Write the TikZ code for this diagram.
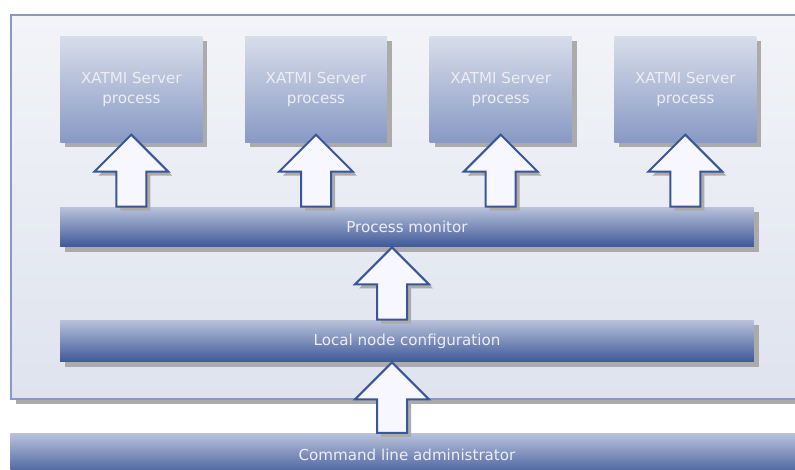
\documentclass[tikz,border=0pt]{standalone}
\usepackage{fontspec}
\setmainfont{DejaVu Sans}
\usetikzlibrary{positioning, calc, shadows}
\definecolor{frameblue}{RGB}{136,153,198}
\definecolor{paneltop}{RGB}{242,244,248}
\definecolor{panelbottom}{RGB}{223,227,238}
\definecolor{bartop}{RGB}{184,194,219}
\definecolor{barbottom}{RGB}{62,88,152}
\definecolor{boxtop}{RGB}{215,221,234}
\definecolor{boxbottom}{RGB}{136,153,196}
\definecolor{arrowblue}{RGB}{58,86,150}
\definecolor{labelwhite}{RGB}{236,238,244}

% block arrow pointing up: #1 = source node, #2 = tip coordinate
\newcommand{\blockup}[2]{%
  \draw[blockarrow] (#2) -- ($(#2)+(37,-37)$) -- ($(#2)+(15,-37)$)
    -- ($(#2 |- #1.north)+(15,0)$) -- ($(#2 |- #1.north)+(-15,0)$)
    -- ($(#2)+(-15,-37)$) -- ($(#2)+(-37,-37)$) -- cycle;}

\begin{document}
\begin{tikzpicture}[
    x=0.02cm, y=0.02cm,
    hardshadow/.style={drop shadow={shadow xshift=0.1cm, shadow yshift=-0.1cm, fill=black!33, opacity=1}},
    server/.style={rectangle, top color=boxtop, bottom color=boxbottom, minimum width=2.84cm, minimum height=2.12cm, text=labelwhite, font=\fontsize{8.6}{11.4}\selectfont, align=center, hardshadow},
    bar/.style={rectangle, top color=bartop, bottom color=barbottom, text=labelwhite, font=\fontsize{8.6}{10}\selectfont, hardshadow},
    blockarrow/.style={draw=arrowblue, fill=white!97!blue, line width=0.04cm, line join=miter,
        drop shadow={shadow xshift=0.08cm, shadow yshift=-0.08cm, fill=black!33, opacity=1}}
]
    \useasboundingbox (0,0) rectangle (795,470);

    % Outer panel
    \node[rectangle, draw=frameblue, line width=0.045cm, top color=paneltop, bottom color=panelbottom,
          minimum width=18cm, minimum height=7.68cm, anchor=north west, hardshadow] (panel) at (10,456) {};

    % Server processes
    \node[server, anchor=north west] (srv1) at (60,434) {XATMI Server\\process};
    \node[server, right=0.84cm of srv1] (srv2) {XATMI Server\\process};
    \node[server, right=0.84cm of srv2] (srv3) {XATMI Server\\process};
    \node[server, right=0.84cm of srv3] (srv4) {XATMI Server\\process};

    % Horizontal bars
    \node[bar, minimum width=13.88cm, minimum height=0.8cm] (monitor) at (407,243) {Process monitor};
    \node[bar, minimum width=13.88cm, minimum height=0.84cm] (localcfg) at (407,129) {Local node configuration};
    \node[bar, minimum width=18cm, minimum height=0.88cm, anchor=north west] (cmdline) at (10,37) {};
    \node[text=labelwhite, font=\fontsize{8.6}{10}\selectfont] (cmdtext) at (407,15) {Command line administrator};

    % Arrow tips
    \foreach \i in {1,...,4}
        \coordinate (tip\i) at ($(srv\i.south)+(0,8)$);
    \coordinate (tipmon) at ($(monitor.south)+(-15,0)$);
    \coordinate (tipcfg) at ($(localcfg.south)+(-15,0)$);

    % Block arrows
    \foreach \i in {1,...,4}
        \blockup{monitor}{tip\i};
    \blockup{localcfg}{tipmon};
    \blockup{cmdline}{tipcfg};
\end{tikzpicture}
\end{document}
